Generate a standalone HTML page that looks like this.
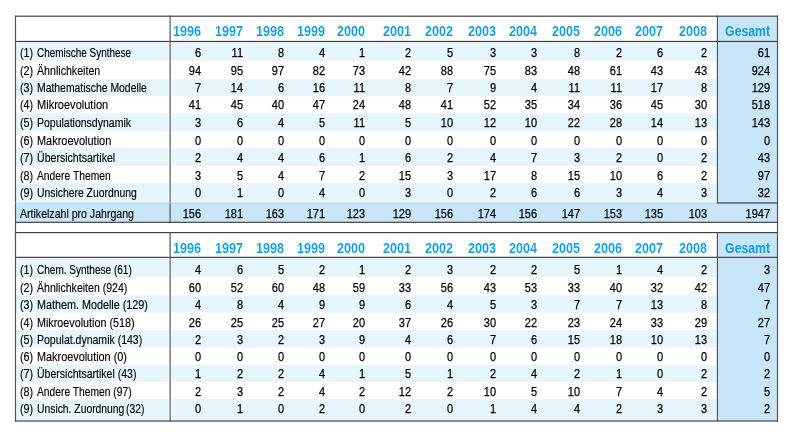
<!DOCTYPE html>
<html><head><meta charset="utf-8"><style>
html,body{margin:0;padding:0;background:#fff;width:800px;height:438px;overflow:hidden}
body{position:relative;font-family:"Liberation Sans",sans-serif}
svg{position:absolute;left:0;top:0}
#txt{position:absolute;left:0;top:0;width:800px;height:438px;will-change:transform}
.t,.h{position:absolute;white-space:nowrap;line-height:1}
.t{-webkit-text-stroke:0.25px #000}
.l{-webkit-text-stroke:0.15px #000}
.h{-webkit-text-stroke:0.1px #fff}
.hg{-webkit-text-stroke:0}
</style></head><body>
<svg width="800" height="438" viewBox="0 0 800 438" shape-rendering="geometricPrecision">
<rect x="717.40" y="16.20" width="60.10" height="206.10" fill="#c8e6f8"/>
<rect x="15.50" y="41.90" width="153.10" height="19.00" fill="#e7f5fd"/>
<rect x="171.60" y="41.90" width="544.80" height="19.00" fill="#e7f5fd"/>
<rect x="15.50" y="79.10" width="153.10" height="17.10" fill="#e7f5fd"/>
<rect x="171.60" y="79.10" width="544.80" height="17.10" fill="#e7f5fd"/>
<rect x="15.50" y="113.70" width="153.10" height="17.50" fill="#e7f5fd"/>
<rect x="171.60" y="113.70" width="544.80" height="17.50" fill="#e7f5fd"/>
<rect x="15.50" y="148.30" width="153.10" height="17.50" fill="#e7f5fd"/>
<rect x="171.60" y="148.30" width="544.80" height="17.50" fill="#e7f5fd"/>
<rect x="15.50" y="182.90" width="153.10" height="20.05" fill="#e7f5fd"/>
<rect x="171.60" y="182.90" width="544.80" height="20.05" fill="#e7f5fd"/>
<rect x="15.50" y="202.95" width="762.00" height="19.35" fill="#c8e6f8"/>
<rect x="14.93" y="15.62" width="763.15" height="1.15" fill="#3c3c3c"/>
<rect x="14.93" y="40.88" width="763.15" height="1.15" fill="#3c3c3c"/>
<rect x="14.93" y="15.62" width="1.15" height="217.55" fill="#505050"/>
<rect x="776.92" y="15.62" width="1.15" height="217.55" fill="#505050"/>
<rect x="169.53" y="15.62" width="1.15" height="207.25" fill="#505050"/>
<rect x="716.82" y="15.62" width="1.15" height="187.90" fill="#505050"/>
<rect x="716.82" y="202.38" width="61.25" height="1.15" fill="#3c3c3c"/>
<rect x="15.15" y="202.60" width="702.60" height="0.70" fill="#c0d4e0"/>
<rect x="14.93" y="221.73" width="763.15" height="1.15" fill="#3c3c3c"/>
<rect x="717.40" y="232.60" width="60.10" height="188.40" fill="#c8e6f8"/>
<rect x="15.50" y="257.90" width="153.10" height="19.20" fill="#e7f5fd"/>
<rect x="171.60" y="257.90" width="544.80" height="19.20" fill="#e7f5fd"/>
<rect x="15.50" y="295.40" width="153.10" height="17.20" fill="#e7f5fd"/>
<rect x="171.60" y="295.40" width="544.80" height="17.20" fill="#e7f5fd"/>
<rect x="15.50" y="330.00" width="153.10" height="17.40" fill="#e7f5fd"/>
<rect x="171.60" y="330.00" width="544.80" height="17.40" fill="#e7f5fd"/>
<rect x="15.50" y="365.10" width="153.10" height="16.70" fill="#e7f5fd"/>
<rect x="171.60" y="365.10" width="544.80" height="16.70" fill="#e7f5fd"/>
<rect x="15.50" y="399.20" width="153.10" height="21.80" fill="#e7f5fd"/>
<rect x="171.60" y="399.20" width="544.80" height="21.80" fill="#e7f5fd"/>
<rect x="14.93" y="232.03" width="763.15" height="1.15" fill="#3c3c3c"/>
<rect x="14.93" y="256.78" width="763.15" height="1.15" fill="#3c3c3c"/>
<rect x="14.93" y="420.43" width="763.15" height="1.15" fill="#3c3c3c"/>
<rect x="14.93" y="232.03" width="1.15" height="189.55" fill="#505050"/>
<rect x="776.92" y="232.03" width="1.15" height="189.55" fill="#505050"/>
<rect x="169.53" y="232.03" width="1.15" height="189.55" fill="#505050"/>
<rect x="716.82" y="232.03" width="1.15" height="189.55" fill="#505050"/>
</svg>
<div id="txt">
<div class="h" style="left:1.15px;top:24.15px;width:200px;font-size:14px;text-align:right;color:#0a9de0;font-weight:bold;transform:scaleX(0.900);transform-origin:right">1996</div>
<div class="h" style="left:42.90px;top:24.15px;width:200px;font-size:14px;text-align:right;color:#0a9de0;font-weight:bold;transform:scaleX(0.900);transform-origin:right">1997</div>
<div class="h" style="left:83.90px;top:24.15px;width:200px;font-size:14px;text-align:right;color:#0a9de0;font-weight:bold;transform:scaleX(0.900);transform-origin:right">1998</div>
<div class="h" style="left:124.90px;top:24.15px;width:200px;font-size:14px;text-align:right;color:#0a9de0;font-weight:bold;transform:scaleX(0.900);transform-origin:right">1999</div>
<div class="h" style="left:164.90px;top:24.15px;width:200px;font-size:14px;text-align:right;color:#0a9de0;font-weight:bold;transform:scaleX(0.900);transform-origin:right">2000</div>
<div class="h" style="left:211.15px;top:24.15px;width:200px;font-size:14px;text-align:right;color:#0a9de0;font-weight:bold;transform:scaleX(0.900);transform-origin:right">2001</div>
<div class="h" style="left:252.90px;top:24.15px;width:200px;font-size:14px;text-align:right;color:#0a9de0;font-weight:bold;transform:scaleX(0.900);transform-origin:right">2002</div>
<div class="h" style="left:296.15px;top:24.15px;width:200px;font-size:14px;text-align:right;color:#0a9de0;font-weight:bold;transform:scaleX(0.900);transform-origin:right">2003</div>
<div class="h" style="left:336.90px;top:24.15px;width:200px;font-size:14px;text-align:right;color:#0a9de0;font-weight:bold;transform:scaleX(0.900);transform-origin:right">2004</div>
<div class="h" style="left:379.90px;top:24.15px;width:200px;font-size:14px;text-align:right;color:#0a9de0;font-weight:bold;transform:scaleX(0.900);transform-origin:right">2005</div>
<div class="h" style="left:421.90px;top:24.15px;width:200px;font-size:14px;text-align:right;color:#0a9de0;font-weight:bold;transform:scaleX(0.900);transform-origin:right">2006</div>
<div class="h" style="left:463.15px;top:24.15px;width:200px;font-size:14px;text-align:right;color:#0a9de0;font-weight:bold;transform:scaleX(0.900);transform-origin:right">2007</div>
<div class="h" style="left:506.65px;top:24.15px;width:200px;font-size:14px;text-align:right;color:#0a9de0;font-weight:bold;transform:scaleX(0.900);transform-origin:right">2008</div>
<div class="h hg" style="left:569.70px;top:24.15px;width:200px;font-size:14px;text-align:right;color:#0a9de0;font-weight:bold;transform:scaleX(0.874);transform-origin:right">Gesamt</div>
<div class="t l" style="left:20.15px;top:47.00px;font-size:12.5px;color:#000;transform:scaleX(0.860);transform-origin:left">(1)</div>
<div class="t l" style="left:37.25px;top:47.00px;font-size:12.5px;color:#000;transform:scaleX(0.796);transform-origin:left">Chemische Synthese</div>
<div class="t" style="left:1.00px;top:47.00px;width:200px;font-size:12.5px;text-align:right;color:#000;transform:scaleX(0.880);transform-origin:right">6</div>
<div class="t" style="left:42.75px;top:47.00px;width:200px;font-size:12.5px;text-align:right;color:#000;transform:scaleX(0.880);transform-origin:right">11</div>
<div class="t" style="left:83.75px;top:47.00px;width:200px;font-size:12.5px;text-align:right;color:#000;transform:scaleX(0.880);transform-origin:right">8</div>
<div class="t" style="left:124.75px;top:47.00px;width:200px;font-size:12.5px;text-align:right;color:#000;transform:scaleX(0.880);transform-origin:right">4</div>
<div class="t" style="left:164.75px;top:47.00px;width:200px;font-size:12.5px;text-align:right;color:#000;transform:scaleX(0.880);transform-origin:right">1</div>
<div class="t" style="left:211.00px;top:47.00px;width:200px;font-size:12.5px;text-align:right;color:#000;transform:scaleX(0.880);transform-origin:right">2</div>
<div class="t" style="left:252.75px;top:47.00px;width:200px;font-size:12.5px;text-align:right;color:#000;transform:scaleX(0.880);transform-origin:right">5</div>
<div class="t" style="left:296.00px;top:47.00px;width:200px;font-size:12.5px;text-align:right;color:#000;transform:scaleX(0.880);transform-origin:right">3</div>
<div class="t" style="left:336.75px;top:47.00px;width:200px;font-size:12.5px;text-align:right;color:#000;transform:scaleX(0.880);transform-origin:right">3</div>
<div class="t" style="left:379.75px;top:47.00px;width:200px;font-size:12.5px;text-align:right;color:#000;transform:scaleX(0.880);transform-origin:right">8</div>
<div class="t" style="left:421.75px;top:47.00px;width:200px;font-size:12.5px;text-align:right;color:#000;transform:scaleX(0.880);transform-origin:right">2</div>
<div class="t" style="left:463.00px;top:47.00px;width:200px;font-size:12.5px;text-align:right;color:#000;transform:scaleX(0.880);transform-origin:right">6</div>
<div class="t" style="left:506.50px;top:47.00px;width:200px;font-size:12.5px;text-align:right;color:#000;transform:scaleX(0.880);transform-origin:right">2</div>
<div class="t" style="left:569.55px;top:47.00px;width:200px;font-size:12.5px;text-align:right;color:#000;transform:scaleX(0.880);transform-origin:right">61</div>
<div class="t l" style="left:20.15px;top:65.00px;font-size:12.5px;color:#000;transform:scaleX(0.860);transform-origin:left">(2)</div>
<div class="t l" style="left:37.02px;top:65.00px;font-size:12.5px;color:#000;transform:scaleX(0.850);transform-origin:left">Ähnlichkeiten</div>
<div class="t" style="left:1.00px;top:65.00px;width:200px;font-size:12.5px;text-align:right;color:#000;transform:scaleX(0.880);transform-origin:right">94</div>
<div class="t" style="left:42.75px;top:65.00px;width:200px;font-size:12.5px;text-align:right;color:#000;transform:scaleX(0.880);transform-origin:right">95</div>
<div class="t" style="left:83.75px;top:65.00px;width:200px;font-size:12.5px;text-align:right;color:#000;transform:scaleX(0.880);transform-origin:right">97</div>
<div class="t" style="left:124.75px;top:65.00px;width:200px;font-size:12.5px;text-align:right;color:#000;transform:scaleX(0.880);transform-origin:right">82</div>
<div class="t" style="left:164.75px;top:65.00px;width:200px;font-size:12.5px;text-align:right;color:#000;transform:scaleX(0.880);transform-origin:right">73</div>
<div class="t" style="left:211.00px;top:65.00px;width:200px;font-size:12.5px;text-align:right;color:#000;transform:scaleX(0.880);transform-origin:right">42</div>
<div class="t" style="left:252.75px;top:65.00px;width:200px;font-size:12.5px;text-align:right;color:#000;transform:scaleX(0.880);transform-origin:right">88</div>
<div class="t" style="left:296.00px;top:65.00px;width:200px;font-size:12.5px;text-align:right;color:#000;transform:scaleX(0.880);transform-origin:right">75</div>
<div class="t" style="left:336.75px;top:65.00px;width:200px;font-size:12.5px;text-align:right;color:#000;transform:scaleX(0.880);transform-origin:right">83</div>
<div class="t" style="left:379.75px;top:65.00px;width:200px;font-size:12.5px;text-align:right;color:#000;transform:scaleX(0.880);transform-origin:right">48</div>
<div class="t" style="left:421.75px;top:65.00px;width:200px;font-size:12.5px;text-align:right;color:#000;transform:scaleX(0.880);transform-origin:right">61</div>
<div class="t" style="left:463.00px;top:65.00px;width:200px;font-size:12.5px;text-align:right;color:#000;transform:scaleX(0.880);transform-origin:right">43</div>
<div class="t" style="left:506.50px;top:65.00px;width:200px;font-size:12.5px;text-align:right;color:#000;transform:scaleX(0.880);transform-origin:right">43</div>
<div class="t" style="left:569.55px;top:65.00px;width:200px;font-size:12.5px;text-align:right;color:#000;transform:scaleX(0.880);transform-origin:right">924</div>
<div class="t l" style="left:20.15px;top:82.00px;font-size:12.5px;color:#000;transform:scaleX(0.860);transform-origin:left">(3)</div>
<div class="t l" style="left:36.89px;top:82.00px;font-size:12.5px;color:#000;transform:scaleX(0.832);transform-origin:left">Mathematische Modelle</div>
<div class="t" style="left:1.00px;top:82.00px;width:200px;font-size:12.5px;text-align:right;color:#000;transform:scaleX(0.880);transform-origin:right">7</div>
<div class="t" style="left:42.75px;top:82.00px;width:200px;font-size:12.5px;text-align:right;color:#000;transform:scaleX(0.880);transform-origin:right">14</div>
<div class="t" style="left:83.75px;top:82.00px;width:200px;font-size:12.5px;text-align:right;color:#000;transform:scaleX(0.880);transform-origin:right">6</div>
<div class="t" style="left:124.75px;top:82.00px;width:200px;font-size:12.5px;text-align:right;color:#000;transform:scaleX(0.880);transform-origin:right">16</div>
<div class="t" style="left:164.75px;top:82.00px;width:200px;font-size:12.5px;text-align:right;color:#000;transform:scaleX(0.880);transform-origin:right">11</div>
<div class="t" style="left:211.00px;top:82.00px;width:200px;font-size:12.5px;text-align:right;color:#000;transform:scaleX(0.880);transform-origin:right">8</div>
<div class="t" style="left:252.75px;top:82.00px;width:200px;font-size:12.5px;text-align:right;color:#000;transform:scaleX(0.880);transform-origin:right">7</div>
<div class="t" style="left:296.00px;top:82.00px;width:200px;font-size:12.5px;text-align:right;color:#000;transform:scaleX(0.880);transform-origin:right">9</div>
<div class="t" style="left:336.75px;top:82.00px;width:200px;font-size:12.5px;text-align:right;color:#000;transform:scaleX(0.880);transform-origin:right">4</div>
<div class="t" style="left:379.75px;top:82.00px;width:200px;font-size:12.5px;text-align:right;color:#000;transform:scaleX(0.880);transform-origin:right">11</div>
<div class="t" style="left:421.75px;top:82.00px;width:200px;font-size:12.5px;text-align:right;color:#000;transform:scaleX(0.880);transform-origin:right">11</div>
<div class="t" style="left:463.00px;top:82.00px;width:200px;font-size:12.5px;text-align:right;color:#000;transform:scaleX(0.880);transform-origin:right">17</div>
<div class="t" style="left:506.50px;top:82.00px;width:200px;font-size:12.5px;text-align:right;color:#000;transform:scaleX(0.880);transform-origin:right">8</div>
<div class="t" style="left:569.55px;top:82.00px;width:200px;font-size:12.5px;text-align:right;color:#000;transform:scaleX(0.880);transform-origin:right">129</div>
<div class="t l" style="left:20.15px;top:99.00px;font-size:12.5px;color:#000;transform:scaleX(0.860);transform-origin:left">(4)</div>
<div class="t l" style="left:36.84px;top:99.00px;font-size:12.5px;color:#000;transform:scaleX(0.883);transform-origin:left">Mikroevolution</div>
<div class="t" style="left:1.00px;top:99.00px;width:200px;font-size:12.5px;text-align:right;color:#000;transform:scaleX(0.880);transform-origin:right">41</div>
<div class="t" style="left:42.75px;top:99.00px;width:200px;font-size:12.5px;text-align:right;color:#000;transform:scaleX(0.880);transform-origin:right">45</div>
<div class="t" style="left:83.75px;top:99.00px;width:200px;font-size:12.5px;text-align:right;color:#000;transform:scaleX(0.880);transform-origin:right">40</div>
<div class="t" style="left:124.75px;top:99.00px;width:200px;font-size:12.5px;text-align:right;color:#000;transform:scaleX(0.880);transform-origin:right">47</div>
<div class="t" style="left:164.75px;top:99.00px;width:200px;font-size:12.5px;text-align:right;color:#000;transform:scaleX(0.880);transform-origin:right">24</div>
<div class="t" style="left:211.00px;top:99.00px;width:200px;font-size:12.5px;text-align:right;color:#000;transform:scaleX(0.880);transform-origin:right">48</div>
<div class="t" style="left:252.75px;top:99.00px;width:200px;font-size:12.5px;text-align:right;color:#000;transform:scaleX(0.880);transform-origin:right">41</div>
<div class="t" style="left:296.00px;top:99.00px;width:200px;font-size:12.5px;text-align:right;color:#000;transform:scaleX(0.880);transform-origin:right">52</div>
<div class="t" style="left:336.75px;top:99.00px;width:200px;font-size:12.5px;text-align:right;color:#000;transform:scaleX(0.880);transform-origin:right">35</div>
<div class="t" style="left:379.75px;top:99.00px;width:200px;font-size:12.5px;text-align:right;color:#000;transform:scaleX(0.880);transform-origin:right">34</div>
<div class="t" style="left:421.75px;top:99.00px;width:200px;font-size:12.5px;text-align:right;color:#000;transform:scaleX(0.880);transform-origin:right">36</div>
<div class="t" style="left:463.00px;top:99.00px;width:200px;font-size:12.5px;text-align:right;color:#000;transform:scaleX(0.880);transform-origin:right">45</div>
<div class="t" style="left:506.50px;top:99.00px;width:200px;font-size:12.5px;text-align:right;color:#000;transform:scaleX(0.880);transform-origin:right">30</div>
<div class="t" style="left:569.55px;top:99.00px;width:200px;font-size:12.5px;text-align:right;color:#000;transform:scaleX(0.880);transform-origin:right">518</div>
<div class="t l" style="left:20.15px;top:117.00px;font-size:12.5px;color:#000;transform:scaleX(0.860);transform-origin:left">(5)</div>
<div class="t l" style="left:36.88px;top:117.00px;font-size:12.5px;color:#000;transform:scaleX(0.840);transform-origin:left">Populationsdynamik</div>
<div class="t" style="left:1.00px;top:117.00px;width:200px;font-size:12.5px;text-align:right;color:#000;transform:scaleX(0.880);transform-origin:right">3</div>
<div class="t" style="left:42.75px;top:117.00px;width:200px;font-size:12.5px;text-align:right;color:#000;transform:scaleX(0.880);transform-origin:right">6</div>
<div class="t" style="left:83.75px;top:117.00px;width:200px;font-size:12.5px;text-align:right;color:#000;transform:scaleX(0.880);transform-origin:right">4</div>
<div class="t" style="left:124.75px;top:117.00px;width:200px;font-size:12.5px;text-align:right;color:#000;transform:scaleX(0.880);transform-origin:right">5</div>
<div class="t" style="left:164.75px;top:117.00px;width:200px;font-size:12.5px;text-align:right;color:#000;transform:scaleX(0.880);transform-origin:right">11</div>
<div class="t" style="left:211.00px;top:117.00px;width:200px;font-size:12.5px;text-align:right;color:#000;transform:scaleX(0.880);transform-origin:right">5</div>
<div class="t" style="left:252.75px;top:117.00px;width:200px;font-size:12.5px;text-align:right;color:#000;transform:scaleX(0.880);transform-origin:right">10</div>
<div class="t" style="left:296.00px;top:117.00px;width:200px;font-size:12.5px;text-align:right;color:#000;transform:scaleX(0.880);transform-origin:right">12</div>
<div class="t" style="left:336.75px;top:117.00px;width:200px;font-size:12.5px;text-align:right;color:#000;transform:scaleX(0.880);transform-origin:right">10</div>
<div class="t" style="left:379.75px;top:117.00px;width:200px;font-size:12.5px;text-align:right;color:#000;transform:scaleX(0.880);transform-origin:right">22</div>
<div class="t" style="left:421.75px;top:117.00px;width:200px;font-size:12.5px;text-align:right;color:#000;transform:scaleX(0.880);transform-origin:right">28</div>
<div class="t" style="left:463.00px;top:117.00px;width:200px;font-size:12.5px;text-align:right;color:#000;transform:scaleX(0.880);transform-origin:right">14</div>
<div class="t" style="left:506.50px;top:117.00px;width:200px;font-size:12.5px;text-align:right;color:#000;transform:scaleX(0.880);transform-origin:right">13</div>
<div class="t" style="left:569.55px;top:117.00px;width:200px;font-size:12.5px;text-align:right;color:#000;transform:scaleX(0.880);transform-origin:right">143</div>
<div class="t l" style="left:20.15px;top:135.00px;font-size:12.5px;color:#000;transform:scaleX(0.860);transform-origin:left">(6)</div>
<div class="t l" style="left:36.85px;top:135.00px;font-size:12.5px;color:#000;transform:scaleX(0.876);transform-origin:left">Makroevolution</div>
<div class="t" style="left:1.00px;top:135.00px;width:200px;font-size:12.5px;text-align:right;color:#000;transform:scaleX(0.880);transform-origin:right">0</div>
<div class="t" style="left:42.75px;top:135.00px;width:200px;font-size:12.5px;text-align:right;color:#000;transform:scaleX(0.880);transform-origin:right">0</div>
<div class="t" style="left:83.75px;top:135.00px;width:200px;font-size:12.5px;text-align:right;color:#000;transform:scaleX(0.880);transform-origin:right">0</div>
<div class="t" style="left:124.75px;top:135.00px;width:200px;font-size:12.5px;text-align:right;color:#000;transform:scaleX(0.880);transform-origin:right">0</div>
<div class="t" style="left:164.75px;top:135.00px;width:200px;font-size:12.5px;text-align:right;color:#000;transform:scaleX(0.880);transform-origin:right">0</div>
<div class="t" style="left:211.00px;top:135.00px;width:200px;font-size:12.5px;text-align:right;color:#000;transform:scaleX(0.880);transform-origin:right">0</div>
<div class="t" style="left:252.75px;top:135.00px;width:200px;font-size:12.5px;text-align:right;color:#000;transform:scaleX(0.880);transform-origin:right">0</div>
<div class="t" style="left:296.00px;top:135.00px;width:200px;font-size:12.5px;text-align:right;color:#000;transform:scaleX(0.880);transform-origin:right">0</div>
<div class="t" style="left:336.75px;top:135.00px;width:200px;font-size:12.5px;text-align:right;color:#000;transform:scaleX(0.880);transform-origin:right">0</div>
<div class="t" style="left:379.75px;top:135.00px;width:200px;font-size:12.5px;text-align:right;color:#000;transform:scaleX(0.880);transform-origin:right">0</div>
<div class="t" style="left:421.75px;top:135.00px;width:200px;font-size:12.5px;text-align:right;color:#000;transform:scaleX(0.880);transform-origin:right">0</div>
<div class="t" style="left:463.00px;top:135.00px;width:200px;font-size:12.5px;text-align:right;color:#000;transform:scaleX(0.880);transform-origin:right">0</div>
<div class="t" style="left:506.50px;top:135.00px;width:200px;font-size:12.5px;text-align:right;color:#000;transform:scaleX(0.880);transform-origin:right">0</div>
<div class="t" style="left:569.55px;top:135.00px;width:200px;font-size:12.5px;text-align:right;color:#000;transform:scaleX(0.880);transform-origin:right">0</div>
<div class="t l" style="left:20.15px;top:152.00px;font-size:12.5px;color:#000;transform:scaleX(0.860);transform-origin:left">(7)</div>
<div class="t l" style="left:36.94px;top:152.00px;font-size:12.5px;color:#000;transform:scaleX(0.846);transform-origin:left">Übersichtsartikel</div>
<div class="t" style="left:1.00px;top:152.00px;width:200px;font-size:12.5px;text-align:right;color:#000;transform:scaleX(0.880);transform-origin:right">2</div>
<div class="t" style="left:42.75px;top:152.00px;width:200px;font-size:12.5px;text-align:right;color:#000;transform:scaleX(0.880);transform-origin:right">4</div>
<div class="t" style="left:83.75px;top:152.00px;width:200px;font-size:12.5px;text-align:right;color:#000;transform:scaleX(0.880);transform-origin:right">4</div>
<div class="t" style="left:124.75px;top:152.00px;width:200px;font-size:12.5px;text-align:right;color:#000;transform:scaleX(0.880);transform-origin:right">6</div>
<div class="t" style="left:164.75px;top:152.00px;width:200px;font-size:12.5px;text-align:right;color:#000;transform:scaleX(0.880);transform-origin:right">1</div>
<div class="t" style="left:211.00px;top:152.00px;width:200px;font-size:12.5px;text-align:right;color:#000;transform:scaleX(0.880);transform-origin:right">6</div>
<div class="t" style="left:252.75px;top:152.00px;width:200px;font-size:12.5px;text-align:right;color:#000;transform:scaleX(0.880);transform-origin:right">2</div>
<div class="t" style="left:296.00px;top:152.00px;width:200px;font-size:12.5px;text-align:right;color:#000;transform:scaleX(0.880);transform-origin:right">4</div>
<div class="t" style="left:336.75px;top:152.00px;width:200px;font-size:12.5px;text-align:right;color:#000;transform:scaleX(0.880);transform-origin:right">7</div>
<div class="t" style="left:379.75px;top:152.00px;width:200px;font-size:12.5px;text-align:right;color:#000;transform:scaleX(0.880);transform-origin:right">3</div>
<div class="t" style="left:421.75px;top:152.00px;width:200px;font-size:12.5px;text-align:right;color:#000;transform:scaleX(0.880);transform-origin:right">2</div>
<div class="t" style="left:463.00px;top:152.00px;width:200px;font-size:12.5px;text-align:right;color:#000;transform:scaleX(0.880);transform-origin:right">0</div>
<div class="t" style="left:506.50px;top:152.00px;width:200px;font-size:12.5px;text-align:right;color:#000;transform:scaleX(0.880);transform-origin:right">2</div>
<div class="t" style="left:569.55px;top:152.00px;width:200px;font-size:12.5px;text-align:right;color:#000;transform:scaleX(0.880);transform-origin:right">43</div>
<div class="t l" style="left:20.15px;top:170.00px;font-size:12.5px;color:#000;transform:scaleX(0.860);transform-origin:left">(8)</div>
<div class="t l" style="left:37.03px;top:170.00px;font-size:12.5px;color:#000;transform:scaleX(0.824);transform-origin:left">Andere Themen</div>
<div class="t" style="left:1.00px;top:170.00px;width:200px;font-size:12.5px;text-align:right;color:#000;transform:scaleX(0.880);transform-origin:right">3</div>
<div class="t" style="left:42.75px;top:170.00px;width:200px;font-size:12.5px;text-align:right;color:#000;transform:scaleX(0.880);transform-origin:right">5</div>
<div class="t" style="left:83.75px;top:170.00px;width:200px;font-size:12.5px;text-align:right;color:#000;transform:scaleX(0.880);transform-origin:right">4</div>
<div class="t" style="left:124.75px;top:170.00px;width:200px;font-size:12.5px;text-align:right;color:#000;transform:scaleX(0.880);transform-origin:right">7</div>
<div class="t" style="left:164.75px;top:170.00px;width:200px;font-size:12.5px;text-align:right;color:#000;transform:scaleX(0.880);transform-origin:right">2</div>
<div class="t" style="left:211.00px;top:170.00px;width:200px;font-size:12.5px;text-align:right;color:#000;transform:scaleX(0.880);transform-origin:right">15</div>
<div class="t" style="left:252.75px;top:170.00px;width:200px;font-size:12.5px;text-align:right;color:#000;transform:scaleX(0.880);transform-origin:right">3</div>
<div class="t" style="left:296.00px;top:170.00px;width:200px;font-size:12.5px;text-align:right;color:#000;transform:scaleX(0.880);transform-origin:right">17</div>
<div class="t" style="left:336.75px;top:170.00px;width:200px;font-size:12.5px;text-align:right;color:#000;transform:scaleX(0.880);transform-origin:right">8</div>
<div class="t" style="left:379.75px;top:170.00px;width:200px;font-size:12.5px;text-align:right;color:#000;transform:scaleX(0.880);transform-origin:right">15</div>
<div class="t" style="left:421.75px;top:170.00px;width:200px;font-size:12.5px;text-align:right;color:#000;transform:scaleX(0.880);transform-origin:right">10</div>
<div class="t" style="left:463.00px;top:170.00px;width:200px;font-size:12.5px;text-align:right;color:#000;transform:scaleX(0.880);transform-origin:right">6</div>
<div class="t" style="left:506.50px;top:170.00px;width:200px;font-size:12.5px;text-align:right;color:#000;transform:scaleX(0.880);transform-origin:right">2</div>
<div class="t" style="left:569.55px;top:170.00px;width:200px;font-size:12.5px;text-align:right;color:#000;transform:scaleX(0.880);transform-origin:right">97</div>
<div class="t l" style="left:20.15px;top:187.00px;font-size:12.5px;color:#000;transform:scaleX(0.860);transform-origin:left">(9)</div>
<div class="t l" style="left:36.95px;top:187.00px;font-size:12.5px;color:#000;transform:scaleX(0.830);transform-origin:left">Unsichere Zuordnung</div>
<div class="t" style="left:1.00px;top:187.00px;width:200px;font-size:12.5px;text-align:right;color:#000;transform:scaleX(0.880);transform-origin:right">0</div>
<div class="t" style="left:42.75px;top:187.00px;width:200px;font-size:12.5px;text-align:right;color:#000;transform:scaleX(0.880);transform-origin:right">1</div>
<div class="t" style="left:83.75px;top:187.00px;width:200px;font-size:12.5px;text-align:right;color:#000;transform:scaleX(0.880);transform-origin:right">0</div>
<div class="t" style="left:124.75px;top:187.00px;width:200px;font-size:12.5px;text-align:right;color:#000;transform:scaleX(0.880);transform-origin:right">4</div>
<div class="t" style="left:164.75px;top:187.00px;width:200px;font-size:12.5px;text-align:right;color:#000;transform:scaleX(0.880);transform-origin:right">0</div>
<div class="t" style="left:211.00px;top:187.00px;width:200px;font-size:12.5px;text-align:right;color:#000;transform:scaleX(0.880);transform-origin:right">3</div>
<div class="t" style="left:252.75px;top:187.00px;width:200px;font-size:12.5px;text-align:right;color:#000;transform:scaleX(0.880);transform-origin:right">0</div>
<div class="t" style="left:296.00px;top:187.00px;width:200px;font-size:12.5px;text-align:right;color:#000;transform:scaleX(0.880);transform-origin:right">2</div>
<div class="t" style="left:336.75px;top:187.00px;width:200px;font-size:12.5px;text-align:right;color:#000;transform:scaleX(0.880);transform-origin:right">6</div>
<div class="t" style="left:379.75px;top:187.00px;width:200px;font-size:12.5px;text-align:right;color:#000;transform:scaleX(0.880);transform-origin:right">6</div>
<div class="t" style="left:421.75px;top:187.00px;width:200px;font-size:12.5px;text-align:right;color:#000;transform:scaleX(0.880);transform-origin:right">3</div>
<div class="t" style="left:463.00px;top:187.00px;width:200px;font-size:12.5px;text-align:right;color:#000;transform:scaleX(0.880);transform-origin:right">4</div>
<div class="t" style="left:506.50px;top:187.00px;width:200px;font-size:12.5px;text-align:right;color:#000;transform:scaleX(0.880);transform-origin:right">3</div>
<div class="t" style="left:569.55px;top:187.00px;width:200px;font-size:12.5px;text-align:right;color:#000;transform:scaleX(0.880);transform-origin:right">32</div>
<div class="t l" style="left:19.87px;top:208.00px;font-size:12.5px;color:#000;transform:scaleX(0.845);transform-origin:left">Artikelzahl pro Jahrgang</div>
<div class="t" style="left:1.00px;top:208.00px;width:200px;font-size:12.5px;text-align:right;color:#000;transform:scaleX(0.880);transform-origin:right">156</div>
<div class="t" style="left:42.75px;top:208.00px;width:200px;font-size:12.5px;text-align:right;color:#000;transform:scaleX(0.880);transform-origin:right">181</div>
<div class="t" style="left:83.75px;top:208.00px;width:200px;font-size:12.5px;text-align:right;color:#000;transform:scaleX(0.880);transform-origin:right">163</div>
<div class="t" style="left:124.75px;top:208.00px;width:200px;font-size:12.5px;text-align:right;color:#000;transform:scaleX(0.880);transform-origin:right">171</div>
<div class="t" style="left:164.75px;top:208.00px;width:200px;font-size:12.5px;text-align:right;color:#000;transform:scaleX(0.880);transform-origin:right">123</div>
<div class="t" style="left:211.00px;top:208.00px;width:200px;font-size:12.5px;text-align:right;color:#000;transform:scaleX(0.880);transform-origin:right">129</div>
<div class="t" style="left:252.75px;top:208.00px;width:200px;font-size:12.5px;text-align:right;color:#000;transform:scaleX(0.880);transform-origin:right">156</div>
<div class="t" style="left:296.00px;top:208.00px;width:200px;font-size:12.5px;text-align:right;color:#000;transform:scaleX(0.880);transform-origin:right">174</div>
<div class="t" style="left:336.75px;top:208.00px;width:200px;font-size:12.5px;text-align:right;color:#000;transform:scaleX(0.880);transform-origin:right">156</div>
<div class="t" style="left:379.75px;top:208.00px;width:200px;font-size:12.5px;text-align:right;color:#000;transform:scaleX(0.880);transform-origin:right">147</div>
<div class="t" style="left:421.75px;top:208.00px;width:200px;font-size:12.5px;text-align:right;color:#000;transform:scaleX(0.880);transform-origin:right">153</div>
<div class="t" style="left:463.00px;top:208.00px;width:200px;font-size:12.5px;text-align:right;color:#000;transform:scaleX(0.880);transform-origin:right">135</div>
<div class="t" style="left:506.50px;top:208.00px;width:200px;font-size:12.5px;text-align:right;color:#000;transform:scaleX(0.880);transform-origin:right">103</div>
<div class="t" style="left:569.55px;top:208.00px;width:200px;font-size:12.5px;text-align:right;color:#000;transform:scaleX(0.880);transform-origin:right">1947</div>
<div class="h" style="left:1.15px;top:240.75px;width:200px;font-size:14px;text-align:right;color:#0a9de0;font-weight:bold;transform:scaleX(0.900);transform-origin:right">1996</div>
<div class="h" style="left:42.90px;top:240.75px;width:200px;font-size:14px;text-align:right;color:#0a9de0;font-weight:bold;transform:scaleX(0.900);transform-origin:right">1997</div>
<div class="h" style="left:83.90px;top:240.75px;width:200px;font-size:14px;text-align:right;color:#0a9de0;font-weight:bold;transform:scaleX(0.900);transform-origin:right">1998</div>
<div class="h" style="left:124.90px;top:240.75px;width:200px;font-size:14px;text-align:right;color:#0a9de0;font-weight:bold;transform:scaleX(0.900);transform-origin:right">1999</div>
<div class="h" style="left:164.90px;top:240.75px;width:200px;font-size:14px;text-align:right;color:#0a9de0;font-weight:bold;transform:scaleX(0.900);transform-origin:right">2000</div>
<div class="h" style="left:211.15px;top:240.75px;width:200px;font-size:14px;text-align:right;color:#0a9de0;font-weight:bold;transform:scaleX(0.900);transform-origin:right">2001</div>
<div class="h" style="left:252.90px;top:240.75px;width:200px;font-size:14px;text-align:right;color:#0a9de0;font-weight:bold;transform:scaleX(0.900);transform-origin:right">2002</div>
<div class="h" style="left:296.15px;top:240.75px;width:200px;font-size:14px;text-align:right;color:#0a9de0;font-weight:bold;transform:scaleX(0.900);transform-origin:right">2003</div>
<div class="h" style="left:336.90px;top:240.75px;width:200px;font-size:14px;text-align:right;color:#0a9de0;font-weight:bold;transform:scaleX(0.900);transform-origin:right">2004</div>
<div class="h" style="left:379.90px;top:240.75px;width:200px;font-size:14px;text-align:right;color:#0a9de0;font-weight:bold;transform:scaleX(0.900);transform-origin:right">2005</div>
<div class="h" style="left:421.90px;top:240.75px;width:200px;font-size:14px;text-align:right;color:#0a9de0;font-weight:bold;transform:scaleX(0.900);transform-origin:right">2006</div>
<div class="h" style="left:463.15px;top:240.75px;width:200px;font-size:14px;text-align:right;color:#0a9de0;font-weight:bold;transform:scaleX(0.900);transform-origin:right">2007</div>
<div class="h" style="left:506.65px;top:240.75px;width:200px;font-size:14px;text-align:right;color:#0a9de0;font-weight:bold;transform:scaleX(0.900);transform-origin:right">2008</div>
<div class="h hg" style="left:569.70px;top:240.75px;width:200px;font-size:14px;text-align:right;color:#0a9de0;font-weight:bold;transform:scaleX(0.874);transform-origin:right">Gesamt</div>
<div class="t l" style="left:20.15px;top:264.00px;font-size:12.5px;color:#000;transform:scaleX(0.860);transform-origin:left">(1)</div>
<div class="t l" style="left:37.24px;top:264.00px;font-size:12.5px;color:#000;transform:scaleX(0.802);transform-origin:left">Chem. Synthese (61)</div>
<div class="t" style="left:1.00px;top:264.00px;width:200px;font-size:12.5px;text-align:right;color:#000;transform:scaleX(0.880);transform-origin:right">4</div>
<div class="t" style="left:42.75px;top:264.00px;width:200px;font-size:12.5px;text-align:right;color:#000;transform:scaleX(0.880);transform-origin:right">6</div>
<div class="t" style="left:83.75px;top:264.00px;width:200px;font-size:12.5px;text-align:right;color:#000;transform:scaleX(0.880);transform-origin:right">5</div>
<div class="t" style="left:124.75px;top:264.00px;width:200px;font-size:12.5px;text-align:right;color:#000;transform:scaleX(0.880);transform-origin:right">2</div>
<div class="t" style="left:164.75px;top:264.00px;width:200px;font-size:12.5px;text-align:right;color:#000;transform:scaleX(0.880);transform-origin:right">1</div>
<div class="t" style="left:211.00px;top:264.00px;width:200px;font-size:12.5px;text-align:right;color:#000;transform:scaleX(0.880);transform-origin:right">2</div>
<div class="t" style="left:252.75px;top:264.00px;width:200px;font-size:12.5px;text-align:right;color:#000;transform:scaleX(0.880);transform-origin:right">3</div>
<div class="t" style="left:296.00px;top:264.00px;width:200px;font-size:12.5px;text-align:right;color:#000;transform:scaleX(0.880);transform-origin:right">2</div>
<div class="t" style="left:336.75px;top:264.00px;width:200px;font-size:12.5px;text-align:right;color:#000;transform:scaleX(0.880);transform-origin:right">2</div>
<div class="t" style="left:379.75px;top:264.00px;width:200px;font-size:12.5px;text-align:right;color:#000;transform:scaleX(0.880);transform-origin:right">5</div>
<div class="t" style="left:421.75px;top:264.00px;width:200px;font-size:12.5px;text-align:right;color:#000;transform:scaleX(0.880);transform-origin:right">1</div>
<div class="t" style="left:463.00px;top:264.00px;width:200px;font-size:12.5px;text-align:right;color:#000;transform:scaleX(0.880);transform-origin:right">4</div>
<div class="t" style="left:506.50px;top:264.00px;width:200px;font-size:12.5px;text-align:right;color:#000;transform:scaleX(0.880);transform-origin:right">2</div>
<div class="t" style="left:569.55px;top:264.00px;width:200px;font-size:12.5px;text-align:right;color:#000;transform:scaleX(0.880);transform-origin:right">3</div>
<div class="t l" style="left:20.15px;top:282.00px;font-size:12.5px;color:#000;transform:scaleX(0.860);transform-origin:left">(2)</div>
<div class="t l" style="left:37.02px;top:282.00px;font-size:12.5px;color:#000;transform:scaleX(0.844);transform-origin:left">Ähnlichkeiten (924)</div>
<div class="t" style="left:1.00px;top:282.00px;width:200px;font-size:12.5px;text-align:right;color:#000;transform:scaleX(0.880);transform-origin:right">60</div>
<div class="t" style="left:42.75px;top:282.00px;width:200px;font-size:12.5px;text-align:right;color:#000;transform:scaleX(0.880);transform-origin:right">52</div>
<div class="t" style="left:83.75px;top:282.00px;width:200px;font-size:12.5px;text-align:right;color:#000;transform:scaleX(0.880);transform-origin:right">60</div>
<div class="t" style="left:124.75px;top:282.00px;width:200px;font-size:12.5px;text-align:right;color:#000;transform:scaleX(0.880);transform-origin:right">48</div>
<div class="t" style="left:164.75px;top:282.00px;width:200px;font-size:12.5px;text-align:right;color:#000;transform:scaleX(0.880);transform-origin:right">59</div>
<div class="t" style="left:211.00px;top:282.00px;width:200px;font-size:12.5px;text-align:right;color:#000;transform:scaleX(0.880);transform-origin:right">33</div>
<div class="t" style="left:252.75px;top:282.00px;width:200px;font-size:12.5px;text-align:right;color:#000;transform:scaleX(0.880);transform-origin:right">56</div>
<div class="t" style="left:296.00px;top:282.00px;width:200px;font-size:12.5px;text-align:right;color:#000;transform:scaleX(0.880);transform-origin:right">43</div>
<div class="t" style="left:336.75px;top:282.00px;width:200px;font-size:12.5px;text-align:right;color:#000;transform:scaleX(0.880);transform-origin:right">53</div>
<div class="t" style="left:379.75px;top:282.00px;width:200px;font-size:12.5px;text-align:right;color:#000;transform:scaleX(0.880);transform-origin:right">33</div>
<div class="t" style="left:421.75px;top:282.00px;width:200px;font-size:12.5px;text-align:right;color:#000;transform:scaleX(0.880);transform-origin:right">40</div>
<div class="t" style="left:463.00px;top:282.00px;width:200px;font-size:12.5px;text-align:right;color:#000;transform:scaleX(0.880);transform-origin:right">32</div>
<div class="t" style="left:506.50px;top:282.00px;width:200px;font-size:12.5px;text-align:right;color:#000;transform:scaleX(0.880);transform-origin:right">42</div>
<div class="t" style="left:569.55px;top:282.00px;width:200px;font-size:12.5px;text-align:right;color:#000;transform:scaleX(0.880);transform-origin:right">47</div>
<div class="t l" style="left:20.15px;top:299.00px;font-size:12.5px;color:#000;transform:scaleX(0.860);transform-origin:left">(3)</div>
<div class="t l" style="left:36.86px;top:299.00px;font-size:12.5px;color:#000;transform:scaleX(0.863);transform-origin:left">Mathem. Modelle (129)</div>
<div class="t" style="left:1.00px;top:299.00px;width:200px;font-size:12.5px;text-align:right;color:#000;transform:scaleX(0.880);transform-origin:right">4</div>
<div class="t" style="left:42.75px;top:299.00px;width:200px;font-size:12.5px;text-align:right;color:#000;transform:scaleX(0.880);transform-origin:right">8</div>
<div class="t" style="left:83.75px;top:299.00px;width:200px;font-size:12.5px;text-align:right;color:#000;transform:scaleX(0.880);transform-origin:right">4</div>
<div class="t" style="left:124.75px;top:299.00px;width:200px;font-size:12.5px;text-align:right;color:#000;transform:scaleX(0.880);transform-origin:right">9</div>
<div class="t" style="left:164.75px;top:299.00px;width:200px;font-size:12.5px;text-align:right;color:#000;transform:scaleX(0.880);transform-origin:right">9</div>
<div class="t" style="left:211.00px;top:299.00px;width:200px;font-size:12.5px;text-align:right;color:#000;transform:scaleX(0.880);transform-origin:right">6</div>
<div class="t" style="left:252.75px;top:299.00px;width:200px;font-size:12.5px;text-align:right;color:#000;transform:scaleX(0.880);transform-origin:right">4</div>
<div class="t" style="left:296.00px;top:299.00px;width:200px;font-size:12.5px;text-align:right;color:#000;transform:scaleX(0.880);transform-origin:right">5</div>
<div class="t" style="left:336.75px;top:299.00px;width:200px;font-size:12.5px;text-align:right;color:#000;transform:scaleX(0.880);transform-origin:right">3</div>
<div class="t" style="left:379.75px;top:299.00px;width:200px;font-size:12.5px;text-align:right;color:#000;transform:scaleX(0.880);transform-origin:right">7</div>
<div class="t" style="left:421.75px;top:299.00px;width:200px;font-size:12.5px;text-align:right;color:#000;transform:scaleX(0.880);transform-origin:right">7</div>
<div class="t" style="left:463.00px;top:299.00px;width:200px;font-size:12.5px;text-align:right;color:#000;transform:scaleX(0.880);transform-origin:right">13</div>
<div class="t" style="left:506.50px;top:299.00px;width:200px;font-size:12.5px;text-align:right;color:#000;transform:scaleX(0.880);transform-origin:right">8</div>
<div class="t" style="left:569.55px;top:299.00px;width:200px;font-size:12.5px;text-align:right;color:#000;transform:scaleX(0.880);transform-origin:right">7</div>
<div class="t l" style="left:20.15px;top:317.00px;font-size:12.5px;color:#000;transform:scaleX(0.860);transform-origin:left">(4)</div>
<div class="t l" style="left:36.86px;top:317.00px;font-size:12.5px;color:#000;transform:scaleX(0.861);transform-origin:left">Mikroevolution (518)</div>
<div class="t" style="left:1.00px;top:317.00px;width:200px;font-size:12.5px;text-align:right;color:#000;transform:scaleX(0.880);transform-origin:right">26</div>
<div class="t" style="left:42.75px;top:317.00px;width:200px;font-size:12.5px;text-align:right;color:#000;transform:scaleX(0.880);transform-origin:right">25</div>
<div class="t" style="left:83.75px;top:317.00px;width:200px;font-size:12.5px;text-align:right;color:#000;transform:scaleX(0.880);transform-origin:right">25</div>
<div class="t" style="left:124.75px;top:317.00px;width:200px;font-size:12.5px;text-align:right;color:#000;transform:scaleX(0.880);transform-origin:right">27</div>
<div class="t" style="left:164.75px;top:317.00px;width:200px;font-size:12.5px;text-align:right;color:#000;transform:scaleX(0.880);transform-origin:right">20</div>
<div class="t" style="left:211.00px;top:317.00px;width:200px;font-size:12.5px;text-align:right;color:#000;transform:scaleX(0.880);transform-origin:right">37</div>
<div class="t" style="left:252.75px;top:317.00px;width:200px;font-size:12.5px;text-align:right;color:#000;transform:scaleX(0.880);transform-origin:right">26</div>
<div class="t" style="left:296.00px;top:317.00px;width:200px;font-size:12.5px;text-align:right;color:#000;transform:scaleX(0.880);transform-origin:right">30</div>
<div class="t" style="left:336.75px;top:317.00px;width:200px;font-size:12.5px;text-align:right;color:#000;transform:scaleX(0.880);transform-origin:right">22</div>
<div class="t" style="left:379.75px;top:317.00px;width:200px;font-size:12.5px;text-align:right;color:#000;transform:scaleX(0.880);transform-origin:right">23</div>
<div class="t" style="left:421.75px;top:317.00px;width:200px;font-size:12.5px;text-align:right;color:#000;transform:scaleX(0.880);transform-origin:right">24</div>
<div class="t" style="left:463.00px;top:317.00px;width:200px;font-size:12.5px;text-align:right;color:#000;transform:scaleX(0.880);transform-origin:right">33</div>
<div class="t" style="left:506.50px;top:317.00px;width:200px;font-size:12.5px;text-align:right;color:#000;transform:scaleX(0.880);transform-origin:right">29</div>
<div class="t" style="left:569.55px;top:317.00px;width:200px;font-size:12.5px;text-align:right;color:#000;transform:scaleX(0.880);transform-origin:right">27</div>
<div class="t l" style="left:20.15px;top:334.00px;font-size:12.5px;color:#000;transform:scaleX(0.860);transform-origin:left">(5)</div>
<div class="t l" style="left:36.88px;top:334.00px;font-size:12.5px;color:#000;transform:scaleX(0.841);transform-origin:left">Populat.dynamik (143)</div>
<div class="t" style="left:1.00px;top:334.00px;width:200px;font-size:12.5px;text-align:right;color:#000;transform:scaleX(0.880);transform-origin:right">2</div>
<div class="t" style="left:42.75px;top:334.00px;width:200px;font-size:12.5px;text-align:right;color:#000;transform:scaleX(0.880);transform-origin:right">3</div>
<div class="t" style="left:83.75px;top:334.00px;width:200px;font-size:12.5px;text-align:right;color:#000;transform:scaleX(0.880);transform-origin:right">2</div>
<div class="t" style="left:124.75px;top:334.00px;width:200px;font-size:12.5px;text-align:right;color:#000;transform:scaleX(0.880);transform-origin:right">3</div>
<div class="t" style="left:164.75px;top:334.00px;width:200px;font-size:12.5px;text-align:right;color:#000;transform:scaleX(0.880);transform-origin:right">9</div>
<div class="t" style="left:211.00px;top:334.00px;width:200px;font-size:12.5px;text-align:right;color:#000;transform:scaleX(0.880);transform-origin:right">4</div>
<div class="t" style="left:252.75px;top:334.00px;width:200px;font-size:12.5px;text-align:right;color:#000;transform:scaleX(0.880);transform-origin:right">6</div>
<div class="t" style="left:296.00px;top:334.00px;width:200px;font-size:12.5px;text-align:right;color:#000;transform:scaleX(0.880);transform-origin:right">7</div>
<div class="t" style="left:336.75px;top:334.00px;width:200px;font-size:12.5px;text-align:right;color:#000;transform:scaleX(0.880);transform-origin:right">6</div>
<div class="t" style="left:379.75px;top:334.00px;width:200px;font-size:12.5px;text-align:right;color:#000;transform:scaleX(0.880);transform-origin:right">15</div>
<div class="t" style="left:421.75px;top:334.00px;width:200px;font-size:12.5px;text-align:right;color:#000;transform:scaleX(0.880);transform-origin:right">18</div>
<div class="t" style="left:463.00px;top:334.00px;width:200px;font-size:12.5px;text-align:right;color:#000;transform:scaleX(0.880);transform-origin:right">10</div>
<div class="t" style="left:506.50px;top:334.00px;width:200px;font-size:12.5px;text-align:right;color:#000;transform:scaleX(0.880);transform-origin:right">13</div>
<div class="t" style="left:569.55px;top:334.00px;width:200px;font-size:12.5px;text-align:right;color:#000;transform:scaleX(0.880);transform-origin:right">7</div>
<div class="t l" style="left:20.15px;top:351.00px;font-size:12.5px;color:#000;transform:scaleX(0.860);transform-origin:left">(6)</div>
<div class="t l" style="left:36.85px;top:351.00px;font-size:12.5px;color:#000;transform:scaleX(0.869);transform-origin:left">Makroevolution (0)</div>
<div class="t" style="left:1.00px;top:351.00px;width:200px;font-size:12.5px;text-align:right;color:#000;transform:scaleX(0.880);transform-origin:right">0</div>
<div class="t" style="left:42.75px;top:351.00px;width:200px;font-size:12.5px;text-align:right;color:#000;transform:scaleX(0.880);transform-origin:right">0</div>
<div class="t" style="left:83.75px;top:351.00px;width:200px;font-size:12.5px;text-align:right;color:#000;transform:scaleX(0.880);transform-origin:right">0</div>
<div class="t" style="left:124.75px;top:351.00px;width:200px;font-size:12.5px;text-align:right;color:#000;transform:scaleX(0.880);transform-origin:right">0</div>
<div class="t" style="left:164.75px;top:351.00px;width:200px;font-size:12.5px;text-align:right;color:#000;transform:scaleX(0.880);transform-origin:right">0</div>
<div class="t" style="left:211.00px;top:351.00px;width:200px;font-size:12.5px;text-align:right;color:#000;transform:scaleX(0.880);transform-origin:right">0</div>
<div class="t" style="left:252.75px;top:351.00px;width:200px;font-size:12.5px;text-align:right;color:#000;transform:scaleX(0.880);transform-origin:right">0</div>
<div class="t" style="left:296.00px;top:351.00px;width:200px;font-size:12.5px;text-align:right;color:#000;transform:scaleX(0.880);transform-origin:right">0</div>
<div class="t" style="left:336.75px;top:351.00px;width:200px;font-size:12.5px;text-align:right;color:#000;transform:scaleX(0.880);transform-origin:right">0</div>
<div class="t" style="left:379.75px;top:351.00px;width:200px;font-size:12.5px;text-align:right;color:#000;transform:scaleX(0.880);transform-origin:right">0</div>
<div class="t" style="left:421.75px;top:351.00px;width:200px;font-size:12.5px;text-align:right;color:#000;transform:scaleX(0.880);transform-origin:right">0</div>
<div class="t" style="left:463.00px;top:351.00px;width:200px;font-size:12.5px;text-align:right;color:#000;transform:scaleX(0.880);transform-origin:right">0</div>
<div class="t" style="left:506.50px;top:351.00px;width:200px;font-size:12.5px;text-align:right;color:#000;transform:scaleX(0.880);transform-origin:right">0</div>
<div class="t" style="left:569.55px;top:351.00px;width:200px;font-size:12.5px;text-align:right;color:#000;transform:scaleX(0.880);transform-origin:right">0</div>
<div class="t l" style="left:20.15px;top:368.00px;font-size:12.5px;color:#000;transform:scaleX(0.860);transform-origin:left">(7)</div>
<div class="t l" style="left:36.94px;top:368.00px;font-size:12.5px;color:#000;transform:scaleX(0.842);transform-origin:left">Übersichtsartikel (43)</div>
<div class="t" style="left:1.00px;top:368.00px;width:200px;font-size:12.5px;text-align:right;color:#000;transform:scaleX(0.880);transform-origin:right">1</div>
<div class="t" style="left:42.75px;top:368.00px;width:200px;font-size:12.5px;text-align:right;color:#000;transform:scaleX(0.880);transform-origin:right">2</div>
<div class="t" style="left:83.75px;top:368.00px;width:200px;font-size:12.5px;text-align:right;color:#000;transform:scaleX(0.880);transform-origin:right">2</div>
<div class="t" style="left:124.75px;top:368.00px;width:200px;font-size:12.5px;text-align:right;color:#000;transform:scaleX(0.880);transform-origin:right">4</div>
<div class="t" style="left:164.75px;top:368.00px;width:200px;font-size:12.5px;text-align:right;color:#000;transform:scaleX(0.880);transform-origin:right">1</div>
<div class="t" style="left:211.00px;top:368.00px;width:200px;font-size:12.5px;text-align:right;color:#000;transform:scaleX(0.880);transform-origin:right">5</div>
<div class="t" style="left:252.75px;top:368.00px;width:200px;font-size:12.5px;text-align:right;color:#000;transform:scaleX(0.880);transform-origin:right">1</div>
<div class="t" style="left:296.00px;top:368.00px;width:200px;font-size:12.5px;text-align:right;color:#000;transform:scaleX(0.880);transform-origin:right">2</div>
<div class="t" style="left:336.75px;top:368.00px;width:200px;font-size:12.5px;text-align:right;color:#000;transform:scaleX(0.880);transform-origin:right">4</div>
<div class="t" style="left:379.75px;top:368.00px;width:200px;font-size:12.5px;text-align:right;color:#000;transform:scaleX(0.880);transform-origin:right">2</div>
<div class="t" style="left:421.75px;top:368.00px;width:200px;font-size:12.5px;text-align:right;color:#000;transform:scaleX(0.880);transform-origin:right">1</div>
<div class="t" style="left:463.00px;top:368.00px;width:200px;font-size:12.5px;text-align:right;color:#000;transform:scaleX(0.880);transform-origin:right">0</div>
<div class="t" style="left:506.50px;top:368.00px;width:200px;font-size:12.5px;text-align:right;color:#000;transform:scaleX(0.880);transform-origin:right">2</div>
<div class="t" style="left:569.55px;top:368.00px;width:200px;font-size:12.5px;text-align:right;color:#000;transform:scaleX(0.880);transform-origin:right">2</div>
<div class="t l" style="left:20.15px;top:386.00px;font-size:12.5px;color:#000;transform:scaleX(0.860);transform-origin:left">(8)</div>
<div class="t l" style="left:37.03px;top:386.00px;font-size:12.5px;color:#000;transform:scaleX(0.822);transform-origin:left">Andere Themen (97)</div>
<div class="t" style="left:1.00px;top:386.00px;width:200px;font-size:12.5px;text-align:right;color:#000;transform:scaleX(0.880);transform-origin:right">2</div>
<div class="t" style="left:42.75px;top:386.00px;width:200px;font-size:12.5px;text-align:right;color:#000;transform:scaleX(0.880);transform-origin:right">3</div>
<div class="t" style="left:83.75px;top:386.00px;width:200px;font-size:12.5px;text-align:right;color:#000;transform:scaleX(0.880);transform-origin:right">2</div>
<div class="t" style="left:124.75px;top:386.00px;width:200px;font-size:12.5px;text-align:right;color:#000;transform:scaleX(0.880);transform-origin:right">4</div>
<div class="t" style="left:164.75px;top:386.00px;width:200px;font-size:12.5px;text-align:right;color:#000;transform:scaleX(0.880);transform-origin:right">2</div>
<div class="t" style="left:211.00px;top:386.00px;width:200px;font-size:12.5px;text-align:right;color:#000;transform:scaleX(0.880);transform-origin:right">12</div>
<div class="t" style="left:252.75px;top:386.00px;width:200px;font-size:12.5px;text-align:right;color:#000;transform:scaleX(0.880);transform-origin:right">2</div>
<div class="t" style="left:296.00px;top:386.00px;width:200px;font-size:12.5px;text-align:right;color:#000;transform:scaleX(0.880);transform-origin:right">10</div>
<div class="t" style="left:336.75px;top:386.00px;width:200px;font-size:12.5px;text-align:right;color:#000;transform:scaleX(0.880);transform-origin:right">5</div>
<div class="t" style="left:379.75px;top:386.00px;width:200px;font-size:12.5px;text-align:right;color:#000;transform:scaleX(0.880);transform-origin:right">10</div>
<div class="t" style="left:421.75px;top:386.00px;width:200px;font-size:12.5px;text-align:right;color:#000;transform:scaleX(0.880);transform-origin:right">7</div>
<div class="t" style="left:463.00px;top:386.00px;width:200px;font-size:12.5px;text-align:right;color:#000;transform:scaleX(0.880);transform-origin:right">4</div>
<div class="t" style="left:506.50px;top:386.00px;width:200px;font-size:12.5px;text-align:right;color:#000;transform:scaleX(0.880);transform-origin:right">2</div>
<div class="t" style="left:569.55px;top:386.00px;width:200px;font-size:12.5px;text-align:right;color:#000;transform:scaleX(0.880);transform-origin:right">5</div>
<div class="t l" style="left:20.15px;top:403.00px;font-size:12.5px;color:#000;transform:scaleX(0.860);transform-origin:left">(9)</div>
<div class="t l" style="left:36.96px;top:403.00px;font-size:12.5px;color:#000;transform:scaleX(0.827);transform-origin:left">Unsich. Zuordnung<span style="margin-left:2px">(32)</span></div>
<div class="t" style="left:1.00px;top:403.00px;width:200px;font-size:12.5px;text-align:right;color:#000;transform:scaleX(0.880);transform-origin:right">0</div>
<div class="t" style="left:42.75px;top:403.00px;width:200px;font-size:12.5px;text-align:right;color:#000;transform:scaleX(0.880);transform-origin:right">1</div>
<div class="t" style="left:83.75px;top:403.00px;width:200px;font-size:12.5px;text-align:right;color:#000;transform:scaleX(0.880);transform-origin:right">0</div>
<div class="t" style="left:124.75px;top:403.00px;width:200px;font-size:12.5px;text-align:right;color:#000;transform:scaleX(0.880);transform-origin:right">2</div>
<div class="t" style="left:164.75px;top:403.00px;width:200px;font-size:12.5px;text-align:right;color:#000;transform:scaleX(0.880);transform-origin:right">0</div>
<div class="t" style="left:211.00px;top:403.00px;width:200px;font-size:12.5px;text-align:right;color:#000;transform:scaleX(0.880);transform-origin:right">2</div>
<div class="t" style="left:252.75px;top:403.00px;width:200px;font-size:12.5px;text-align:right;color:#000;transform:scaleX(0.880);transform-origin:right">0</div>
<div class="t" style="left:296.00px;top:403.00px;width:200px;font-size:12.5px;text-align:right;color:#000;transform:scaleX(0.880);transform-origin:right">1</div>
<div class="t" style="left:336.75px;top:403.00px;width:200px;font-size:12.5px;text-align:right;color:#000;transform:scaleX(0.880);transform-origin:right">4</div>
<div class="t" style="left:379.75px;top:403.00px;width:200px;font-size:12.5px;text-align:right;color:#000;transform:scaleX(0.880);transform-origin:right">4</div>
<div class="t" style="left:421.75px;top:403.00px;width:200px;font-size:12.5px;text-align:right;color:#000;transform:scaleX(0.880);transform-origin:right">2</div>
<div class="t" style="left:463.00px;top:403.00px;width:200px;font-size:12.5px;text-align:right;color:#000;transform:scaleX(0.880);transform-origin:right">3</div>
<div class="t" style="left:506.50px;top:403.00px;width:200px;font-size:12.5px;text-align:right;color:#000;transform:scaleX(0.880);transform-origin:right">3</div>
<div class="t" style="left:569.55px;top:403.00px;width:200px;font-size:12.5px;text-align:right;color:#000;transform:scaleX(0.880);transform-origin:right">2</div>
</div>
</body></html>
